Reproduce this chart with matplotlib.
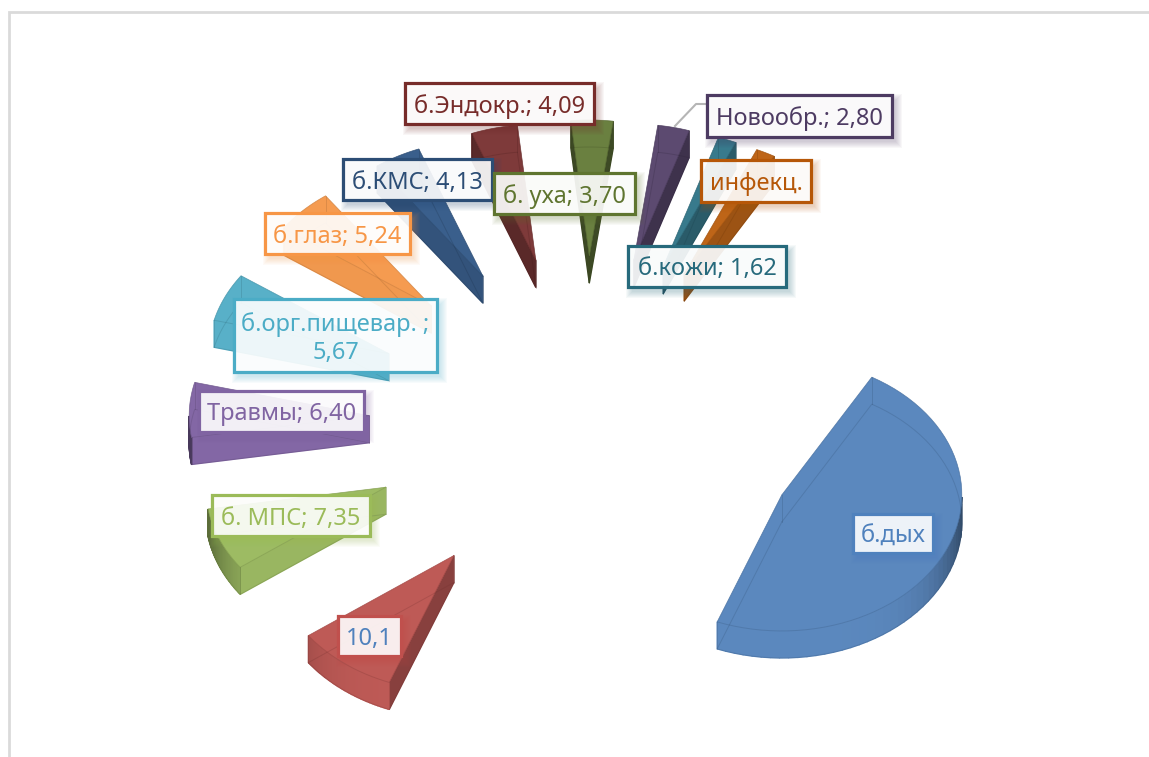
import numpy as np
import matplotlib
matplotlib.use("Agg")
import matplotlib.pyplot as plt
from matplotlib.colors import to_rgb
from matplotlib.patches import Rectangle

plt.rcParams['font.family'] = ['Noto Sans', 'DejaVu Sans']

# Data, clockwise from the first slice
categories = ["б.дых", "10,1", "б. МПС; 7,35", "Травмы; 6,40", "б.орг.пищевар. ;\n5,67",
              "б.глаз; 5,24", "б.КМС; 4,13", "б.Эндокр.; 4,09", "б. уха; 3,70",
              "Новообр.; 2,80", "б.кожи; 1,62", "инфекц."]
# first two: the "10,1" slice is drawn narrower than its label
values = [46.8, 9.0, 7.35, 6.40, 5.67, 5.24, 4.13, 4.09, 3.70, 2.80, 1.62, 1.70]

face_colors = ["#5B88BE", "#BE5A56", "#9DBB63", "#8367A5", "#58B0C8", "#F59B50",
               "#3A5F8C", "#7E3A3A", "#6A8040", "#5C4A70", "#387A8C", "#BE6518"]
edge_colors = ["#4F81BD", "#C0504D", "#9BBB59", "#8064A2", "#4BACC6", "#F79646",
               "#2C4D75", "#772C2A", "#5F7530", "#4D3B62", "#276A7C", "#B65708"]
text_colors = ["#4F81BD", "#4F81BD", "#9BBB59", "#8064A2", "#4BACC6", "#F79646",
               "#2C4D75", "#772C2A", "#5F7530", "#4D3B62", "#276A7C", "#B65708"]

# label boxes in pixels: left, top, right, bottom
label_boxes = [(853, 514, 933, 553), (338, 616, 401, 656), (212, 495, 370, 536),
               (199, 391, 364, 432), (234, 299, 437, 372), (265, 213, 410, 254),
               (343, 159, 492, 200), (405, 83, 594, 124), (494, 173, 635, 214),
               (707, 95, 892, 137), (628, 246, 786, 287), (701, 160, 811, 202)]

# pie geometry in pixels
center_x, center_y = 586, 423
radius_x, radius_y = 180, 136
explode_x, explode_y = 217, 167
depth = 27
start_angle = 30


def shaded(color, nx):
    k = 1 - 0.45 * abs(nx) ** 4
    return tuple(c * k for c in to_rgb(color))


fig = plt.figure(figsize=(11.49, 7.57), dpi=100)
ax = fig.add_axes([0, 0, 1, 1])
ax.set_xlim(0, 1149)
ax.set_ylim(757, 0)
ax.axis("off")

# light frame, only top and left are visible
ax.plot([9, 9, 1149], [757, 12, 12], color="#DADADA", lw=2, solid_joinstyle="miter")

total = sum(values)
angle = start_angle
for i, val in enumerate(values):
    sweep = val / total * 360
    t = np.radians(np.linspace(angle, angle + sweep, 60))
    mid = np.radians(angle + sweep / 2)
    angle += sweep

    ax_x = center_x + explode_x * np.sin(mid)
    ax_y = center_y - explode_y * np.cos(mid)
    xs = np.r_[ax_x, ax_x + radius_x * np.sin(t)]
    ys = np.r_[ax_y, ax_y - radius_y * np.cos(t)]

    # side walls, only those turned towards the viewer
    n = len(xs)
    for j in range(n):
        k = (j + 1) % n
        dx, dy = xs[k] - xs[j], ys[k] - ys[j]
        length = np.hypot(dx, dy)
        nx, ny = dy / length, -dx / length
        if ny > 0:
            ax.fill([xs[j], xs[k], xs[k], xs[j]],
                    [ys[j], ys[k], ys[k] + depth, ys[j] + depth],
                    color=shaded(face_colors[i], nx), lw=1, zorder=2 + i * 0.01)

    ax.fill(xs, ys, color=face_colors[i], lw=0.4, zorder=3 + i * 0.01)

    # both outlines stay faintly visible through the body
    line_color = shaded(edge_colors[i], 1)
    ax.plot(np.r_[xs, xs[0]], np.r_[ys, ys[0]] + depth, color=line_color, lw=0.7, alpha=0.22, zorder=4)
    ax.plot(np.r_[xs, xs[0]], np.r_[ys, ys[0]], color=line_color, lw=0.7, alpha=0.22, zorder=4)
    ax.plot([xs[1], xs[1]], [ys[1], ys[1] + depth], color=line_color, lw=0.7, alpha=0.22, zorder=4)
    ax.plot([xs[-1], xs[-1]], [ys[-1], ys[-1] + depth], color=line_color, lw=0.7, alpha=0.22, zorder=4)
    ax.plot([ax_x, ax_x], [ax_y, ax_y + depth], color=line_color, lw=0.7, alpha=0.22, zorder=4)

# leader line of Новообр.
ax.plot([675, 696, 707], [126, 104, 104], color="#B5B5B5", lw=1.5, zorder=5)

# data labels with a soft shadow, down and to the right
for i, name in enumerate(categories):
    x0, y0, x1, y1 = label_boxes[i]
    for grow in range(1, 8):
        ax.add_patch(Rectangle((x0 + 5 - grow, y0 + 6 - grow), x1 - x0 + 2 * grow - 2, y1 - y0 + 2 * grow - 2,
                               fc=edge_colors[i], ec="none", alpha=0.04, zorder=6 + i * 0.1))
    ax.add_patch(Rectangle((x0, y0), x1 - x0, y1 - y0, fc=(1, 1, 1, 0.9), ec=edge_colors[i],
                           lw=2.3, zorder=6 + i * 0.1 + 0.01))
    ax.text((x0 + x1) / 2, (y0 + y1) / 2 + 3, name, color=text_colors[i], fontsize=17,
            ha="center", va="center", linespacing=1.25, zorder=6 + i * 0.1 + 0.02)

fig.savefig("out.png", dpi=100)
